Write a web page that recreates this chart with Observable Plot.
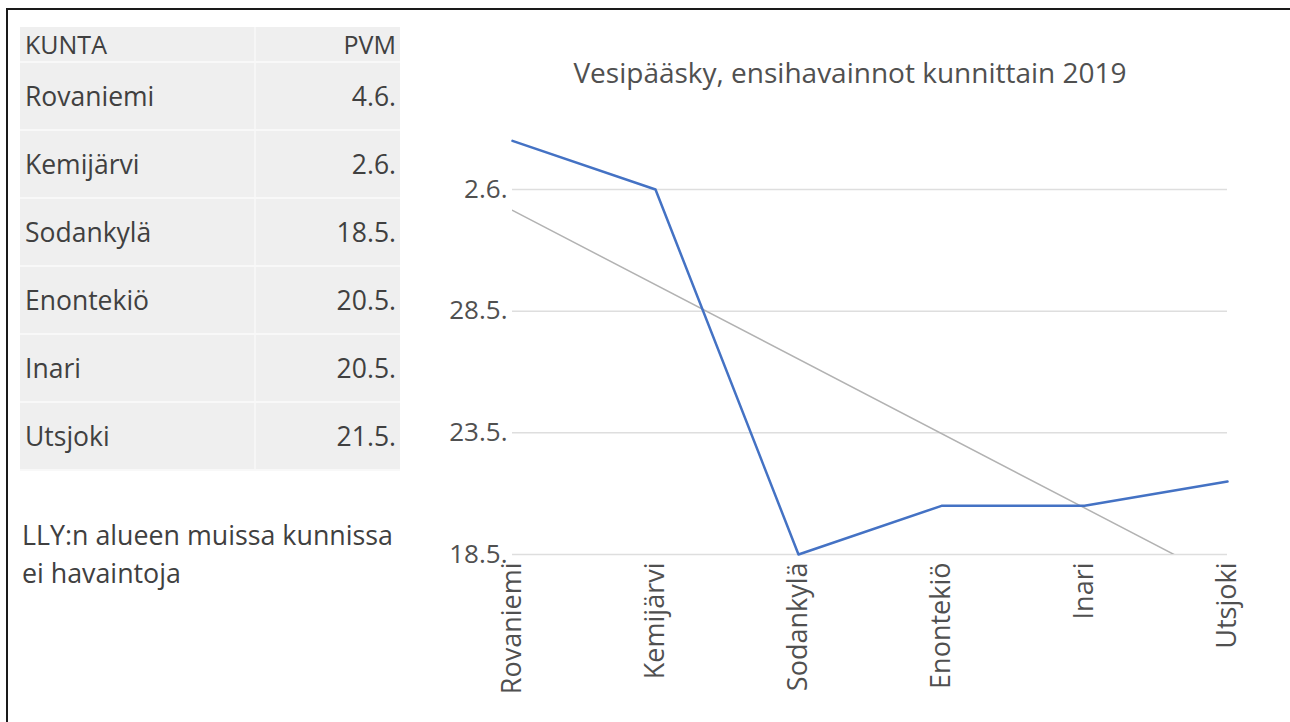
<!DOCTYPE html>
<html>
<head>
<meta charset="utf-8">
<script src="https://cdn.jsdelivr.net/npm/d3@7"></script>
<script src="https://cdn.jsdelivr.net/npm/@observablehq/plot@0.6"></script>
<style>
  html, body { margin: 0; padding: 0; background: #ffffff; }
  body { width: 1290px; height: 722px; position: relative; overflow: hidden; font-family: "Open Sans", sans-serif; color: #404040; }
  #frame { position: absolute; left: 6px; top: 8px; width: 1300px; height: 730px; border-top: 2px solid #1a1a1a; border-left: 2px solid #1a1a1a; }
  #tbl { position: absolute; left: 20px; top: 27px; width: 380px; border-collapse: collapse; background: #efefef; font-size: 26.5px; color: #404040; }
  #tbl td { padding: 0 4px 0 5px; border-bottom: 2px solid #f8f8f8; line-height: 30px; }
  #tbl td.c1 { border-right: 2px solid #f6f6f6; width: 225px; }
  #tbl td.c2 { text-align: right; }
  #tbl tr.head td { height: 34px; font-size: 25px; }
  #tbl tr.row td { height: 66px; }
  #note { position: absolute; left: 22px; top: 516px; font-size: 26.8px; line-height: 38px; color: #404040; white-space: nowrap; }
  #title { position: absolute; left: 420px; top: 53px; width: 860px; text-align: center; font-size: 28px; line-height: 38px; color: #505050; }
  #chart { position: absolute; left: 420px; top: 100px; }
</style>
</head>
<body>
<div id="frame"></div>
<table id="tbl"></table>
<div id="note"></div>
<div id="title"></div>
<div id="chart"></div>
<script>
const tableHeaders = ["KUNTA", "PVM"];
const municipalities = ["Rovaniemi", "Kemijärvi", "Sodankylä", "Enontekiö", "Inari", "Utsjoki"];
const firstSightings = ["4.6.", "2.6.", "18.5.", "20.5.", "20.5.", "21.5."];
const yTickLabels = ["18.5.", "23.5.", "28.5.", "2.6."];
const yDomainLabels = ["18.5.", "5.6."];
const year = 2019;
const chartTitle = "Vesipääsky, ensihavainnot kunnittain 2019";
const noteLines = ["LLY:n alueen muissa kunnissa", "ei havaintoja"];

const parseDM = s => { const [d, m] = s.split(".").map(Number); return new Date(Date.UTC(year, m - 1, d)); };

// table
const tbl = document.getElementById("tbl");
{
  const tr = document.createElement("tr"); tr.className = "head";
  tableHeaders.forEach((h, i) => { const td = document.createElement("td"); td.className = i ? "c2" : "c1"; td.textContent = h; tr.appendChild(td); });
  tbl.appendChild(tr);
}
municipalities.forEach((m, i) => {
  const tr = document.createElement("tr"); tr.className = "row";
  const a = document.createElement("td"); a.className = "c1"; a.textContent = m;
  const b = document.createElement("td"); b.className = "c2"; b.textContent = firstSightings[i];
  tr.appendChild(a); tr.appendChild(b); tbl.appendChild(tr);
});
document.getElementById("note").innerHTML = noteLines.join("<br>");
document.getElementById("title").textContent = chartTitle;

const data = municipalities.map((m, i) => ({i, name: m, date: parseDM(firstSightings[i])}));
const yTicks = yTickLabels.map(parseDM);
const xTicks = d3.range(municipalities.length);

const chart = Plot.plot({
  width: 870,
  height: 622,
  marginLeft: 92,
  marginRight: 63,
  marginTop: 16,
  marginBottom: 168,
  style: {fontFamily: "Open Sans", fontSize: "26px", color: "#505050", background: "transparent", overflow: "visible"},
  x: {type: "linear", domain: [0, municipalities.length - 1]},
  y: {type: "utc", domain: yDomainLabels.map(parseDM)},
  marks: [
    Plot.gridY(yTicks, {stroke: "#dedede", strokeOpacity: 1, strokeWidth: 1.5}),
    Plot.axisY({ticks: yTicks, tickFormat: d => yTickLabels[yTicks.findIndex(t => +t === +d)], tickSize: 0, tickPadding: 5, label: null, fontSize: 26}),
    Plot.axisX({ticks: xTicks, tickFormat: i => municipalities[i], tickRotate: -90, tickSize: 0, tickPadding: 8, label: null, fontSize: 27}),
    Plot.linearRegressionY(data, {x: "i", y: "date", stroke: "#b2b2b2", strokeWidth: 1.5, ci: 0, clip: true}),
    Plot.line(data, {x: "i", y: "date", stroke: "#4472C4", strokeWidth: 2.5})
  ]
});
document.getElementById("chart").appendChild(chart);
</script>
</body>
</html>
